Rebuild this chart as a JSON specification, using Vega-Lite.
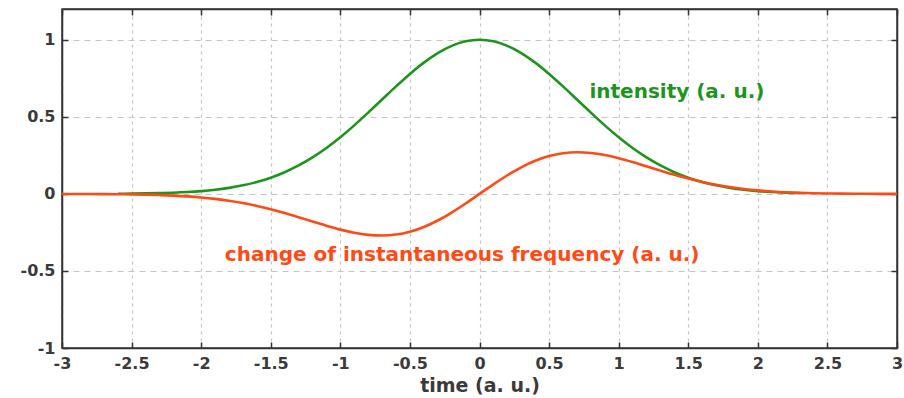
{
  "$schema": "https://vega.github.io/schema/vega-lite/v6.json",
  "width": 835,
  "height": 339,
  "autosize": "none",
  "padding": {"left": 62, "top": 9, "right": 7, "bottom": 50},
  "background": "white",
  "config": {
    "view": {"stroke": "#333333", "strokeWidth": 1.5},
    "font": "DejaVu Sans",
    "axis": {
      "labelFont": "DejaVu Sans",
      "labelFontWeight": "bold",
      "labelFontSize": 16,
      "labelColor": "#3a3a3a",
      "titleFont": "DejaVu Sans",
      "titleFontWeight": "bold",
      "titleFontSize": 19,
      "titleColor": "#3a3a3a",
      "domainColor": "#333333",
      "domainWidth": 1.5,
      "tickColor": "#333333",
      "tickWidth": 1.5,
      "gridColor": "#c4c4c4",
      "gridWidth": 1.2
    }
  },
  "datasets": {
    "curves": [
      {"t": -2.6, "value": 0.00116, "series": "intensity"},
      {"t": -2.5, "value": 0.00193, "series": "intensity"},
      {"t": -2.4, "value": 0.00315, "series": "intensity"},
      {"t": -2.3, "value": 0.00504, "series": "intensity"},
      {"t": -2.2, "value": 0.00791, "series": "intensity"},
      {"t": -2.1, "value": 0.01216, "series": "intensity"},
      {"t": -2.0, "value": 0.01832, "series": "intensity"},
      {"t": -1.9, "value": 0.02705, "series": "intensity"},
      {"t": -1.8, "value": 0.03916, "series": "intensity"},
      {"t": -1.7, "value": 0.05558, "series": "intensity"},
      {"t": -1.6, "value": 0.0773, "series": "intensity"},
      {"t": -1.5, "value": 0.1054, "series": "intensity"},
      {"t": -1.4, "value": 0.14086, "series": "intensity"},
      {"t": -1.3, "value": 0.18452, "series": "intensity"},
      {"t": -1.2, "value": 0.23693, "series": "intensity"},
      {"t": -1.1, "value": 0.2982, "series": "intensity"},
      {"t": -1.0, "value": 0.36788, "series": "intensity"},
      {"t": -0.9, "value": 0.44486, "series": "intensity"},
      {"t": -0.8, "value": 0.52729, "series": "intensity"},
      {"t": -0.7, "value": 0.61263, "series": "intensity"},
      {"t": -0.6, "value": 0.69768, "series": "intensity"},
      {"t": -0.5, "value": 0.7788, "series": "intensity"},
      {"t": -0.4, "value": 0.85214, "series": "intensity"},
      {"t": -0.3, "value": 0.91393, "series": "intensity"},
      {"t": -0.2, "value": 0.96079, "series": "intensity"},
      {"t": -0.1, "value": 0.99005, "series": "intensity"},
      {"t": 0.0, "value": 1.0, "series": "intensity"},
      {"t": 0.1, "value": 0.99005, "series": "intensity"},
      {"t": 0.2, "value": 0.96079, "series": "intensity"},
      {"t": 0.3, "value": 0.91393, "series": "intensity"},
      {"t": 0.4, "value": 0.85214, "series": "intensity"},
      {"t": 0.5, "value": 0.7788, "series": "intensity"},
      {"t": 0.6, "value": 0.69768, "series": "intensity"},
      {"t": 0.7, "value": 0.61263, "series": "intensity"},
      {"t": 0.8, "value": 0.52729, "series": "intensity"},
      {"t": 0.9, "value": 0.44486, "series": "intensity"},
      {"t": 1.0, "value": 0.36788, "series": "intensity"},
      {"t": 1.1, "value": 0.2982, "series": "intensity"},
      {"t": 1.2, "value": 0.23693, "series": "intensity"},
      {"t": 1.3, "value": 0.18452, "series": "intensity"},
      {"t": 1.4, "value": 0.14086, "series": "intensity"},
      {"t": 1.5, "value": 0.1054, "series": "intensity"},
      {"t": 1.6, "value": 0.0773, "series": "intensity"},
      {"t": 1.7, "value": 0.05558, "series": "intensity"},
      {"t": 1.8, "value": 0.03916, "series": "intensity"},
      {"t": 1.9, "value": 0.02705, "series": "intensity"},
      {"t": 2.0, "value": 0.01832, "series": "intensity"},
      {"t": 2.1, "value": 0.01216, "series": "intensity"},
      {"t": 2.2, "value": 0.00791, "series": "intensity"},
      {"t": 2.3, "value": 0.00504, "series": "intensity"},
      {"t": -3.0, "value": -0.00023, "series": "frequency"},
      {"t": -2.9, "value": -0.0004, "series": "frequency"},
      {"t": -2.8, "value": -0.00069, "series": "frequency"},
      {"t": -2.7, "value": -0.00116, "series": "frequency"},
      {"t": -2.6, "value": -0.0019, "series": "frequency"},
      {"t": -2.5, "value": -0.00304, "series": "frequency"},
      {"t": -2.4, "value": -0.00476, "series": "frequency"},
      {"t": -2.3, "value": -0.0073, "series": "frequency"},
      {"t": -2.2, "value": -0.01096, "series": "frequency"},
      {"t": -2.1, "value": -0.01609, "series": "frequency"},
      {"t": -2.0, "value": -0.02308, "series": "frequency"},
      {"t": -1.9, "value": -0.03238, "series": "frequency"},
      {"t": -1.8, "value": -0.04441, "series": "frequency"},
      {"t": -1.7, "value": -0.05953, "series": "frequency"},
      {"t": -1.6, "value": -0.07792, "series": "frequency"},
      {"t": -1.5, "value": -0.0996, "series": "frequency"},
      {"t": -1.4, "value": -0.12424, "series": "frequency"},
      {"t": -1.3, "value": -0.15112, "series": "frequency"},
      {"t": -1.2, "value": -0.17912, "series": "frequency"},
      {"t": -1.1, "value": -0.20665, "series": "frequency"},
      {"t": -1.0, "value": -0.23176, "series": "frequency"},
      {"t": -0.9, "value": -0.25224, "series": "frequency"},
      {"t": -0.8, "value": -0.26575, "series": "frequency"},
      {"t": -0.7, "value": -0.27017, "series": "frequency"},
      {"t": -0.6, "value": -0.26372, "series": "frequency"},
      {"t": -0.5, "value": -0.24532, "series": "frequency"},
      {"t": -0.4, "value": -0.21474, "series": "frequency"},
      {"t": -0.3, "value": -0.17273, "series": "frequency"},
      {"t": -0.2, "value": -0.12106, "series": "frequency"},
      {"t": -0.1, "value": -0.06237, "series": "frequency"},
      {"t": 0.0, "value": 0.0, "series": "frequency"},
      {"t": 0.1, "value": 0.06237, "series": "frequency"},
      {"t": 0.2, "value": 0.12106, "series": "frequency"},
      {"t": 0.3, "value": 0.17273, "series": "frequency"},
      {"t": 0.4, "value": 0.21474, "series": "frequency"},
      {"t": 0.5, "value": 0.24532, "series": "frequency"},
      {"t": 0.6, "value": 0.26372, "series": "frequency"},
      {"t": 0.7, "value": 0.27017, "series": "frequency"},
      {"t": 0.8, "value": 0.26575, "series": "frequency"},
      {"t": 0.9, "value": 0.25224, "series": "frequency"},
      {"t": 1.0, "value": 0.23176, "series": "frequency"},
      {"t": 1.1, "value": 0.20665, "series": "frequency"},
      {"t": 1.2, "value": 0.17912, "series": "frequency"},
      {"t": 1.3, "value": 0.15112, "series": "frequency"},
      {"t": 1.4, "value": 0.12424, "series": "frequency"},
      {"t": 1.5, "value": 0.0996, "series": "frequency"},
      {"t": 1.6, "value": 0.07792, "series": "frequency"},
      {"t": 1.7, "value": 0.05953, "series": "frequency"},
      {"t": 1.8, "value": 0.04441, "series": "frequency"},
      {"t": 1.9, "value": 0.03238, "series": "frequency"},
      {"t": 2.0, "value": 0.02308, "series": "frequency"},
      {"t": 2.1, "value": 0.01609, "series": "frequency"},
      {"t": 2.2, "value": 0.01096, "series": "frequency"},
      {"t": 2.3, "value": 0.0073, "series": "frequency"},
      {"t": 2.4, "value": 0.00476, "series": "frequency"},
      {"t": 2.5, "value": 0.00304, "series": "frequency"},
      {"t": 2.6, "value": 0.0019, "series": "frequency"},
      {"t": 2.7, "value": 0.00116, "series": "frequency"},
      {"t": 2.8, "value": 0.00069, "series": "frequency"},
      {"t": 2.9, "value": 0.0004, "series": "frequency"},
      {"t": 3.0, "value": 0.00023, "series": "frequency"}
    ],
    "labels": [
      {"t": 0.79, "value": 0.662, "series": "intensity", "label": "intensity (a. u.)"},
      {"t": -1.83, "value": -0.396, "series": "frequency", "label": "change of instantaneous frequency (a. u.)"}
    ]
  },
  "resolve": {"axis": {"x": "independent", "y": "independent"}},
  "layer": [
    {
      "data": {"name": "curves"},
      "mark": {"type": "line", "strokeWidth": 2.6, "interpolate": "monotone"},
      "encoding": {
        "x": {
          "field": "t",
          "type": "quantitative",
          "title": "time (a. u.)",
          "scale": {"domain": [-3, 3], "nice": false, "zero": false},
          "axis": {
            "orient": "bottom",
            "values": [-3, -2.5, -2, -1.5, -1, -0.5, 0, 0.5, 1, 1.5, 2, 2.5, 3],
            "labelExpr": "datum.value + ''",
            "tickSize": -6,
            "labelPadding": 13,
            "titlePadding": 5,
            "gridDash": [3, 4],
            "labelFlush": false,
            "labelOverlap": false
          }
        },
        "y": {
          "field": "value",
          "type": "quantitative",
          "title": null,
          "scale": {"domain": [-1, 1.2], "nice": false, "zero": false},
          "axis": {
            "orient": "left",
            "values": [-1, -0.5, 0, 0.5, 1],
            "labelExpr": "datum.value + ''",
            "tickSize": -6,
            "labelPadding": 13,
            "gridDash": [6, 5],
            "labelFlush": false,
            "labelOverlap": false
          }
        },
        "color": {
          "field": "series",
          "type": "nominal",
          "scale": {"domain": ["intensity", "frequency"], "range": ["#1b961b", "#ff4a14"]},
          "legend": null
        }
      }
    },
    {
      "data": {"name": "labels"},
      "mark": {"type": "text", "align": "left", "baseline": "middle", "fontWeight": "bold", "fontSize": 20, "font": "DejaVu Sans"},
      "encoding": {
        "x": {
          "field": "t",
          "type": "quantitative",
          "scale": {"domain": [-3, 3], "nice": false, "zero": false},
          "axis": {
            "orient": "top",
            "title": null,
            "labels": false,
            "grid": false,
            "values": [-3, -2.5, -2, -1.5, -1, -0.5, 0, 0.5, 1, 1.5, 2, 2.5, 3],
            "tickSize": -6
          }
        },
        "y": {
          "field": "value",
          "type": "quantitative",
          "scale": {"domain": [-1, 1.2], "nice": false, "zero": false},
          "axis": {
            "orient": "right",
            "title": null,
            "labels": false,
            "grid": false,
            "values": [-1, -0.5, 0, 0.5, 1],
            "tickSize": -6
          }
        },
        "text": {"field": "label"},
        "color": {
          "field": "series",
          "type": "nominal",
          "scale": {"domain": ["intensity", "frequency"], "range": ["#1b961b", "#ff4a14"]},
          "legend": null
        }
      }
    }
  ]
}
